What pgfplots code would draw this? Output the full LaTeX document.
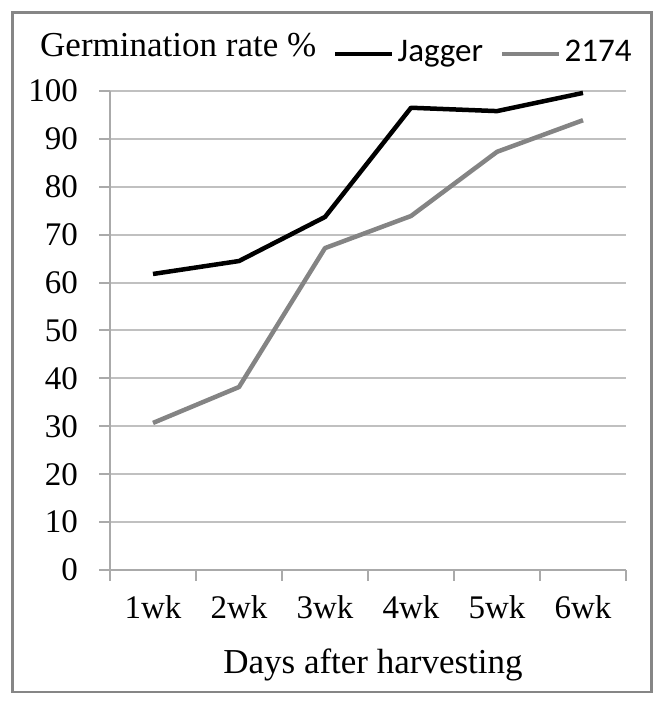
\documentclass[border=0pt]{standalone}
\usepackage{pgfplots}
\pgfplotsset{compat=1.18}
\usepackage{fontspec}
\setmainfont{Liberation Serif}
\newfontfamily\legfont{Carlito}
\definecolor{gridgray}{RGB}{192,192,192}
\definecolor{axisgray}{RGB}{170,170,170}
\definecolor{framegray}{RGB}{134,134,134}
\definecolor{sergray}{RGB}{132,132,132}

\begin{document}
\begin{tikzpicture}[x=1bp,y=1bp]
\useasboundingbox (0,0) rectangle (664,705);
\draw[framegray, line width=2.5bp] (12.5,13) rectangle (651.5,692.5);
\node[anchor=base west, inner sep=0pt, font=\fontsize{35bp}{40bp}\selectfont] at (40,648) {Germination rate \%};
\begin{axis}[
  at={(110bp,135bp)}, anchor=south west,
  scale only axis, width=516bp, height=479bp,
  xmin=0.5, xmax=6.5, ymin=0, ymax=100,
  axis lines=left,
  axis line style={-, draw=axisgray, line width=2bp},
  xtick={0.5,1.5,...,6.5},
  x tick label as interval,
  xticklabels={1wk,2wk,3wk,4wk,5wk,6wk},
  ytick={0,10,...,100},
  tick align=outside, major tick length=11bp,
  tick style={draw=axisgray, line width=2bp},
  ymajorgrids, grid style={draw=gridgray, line width=2bp},
  /pgf/number format/assume math mode=true,
  tick label style={font=\fontsize{33bp}{38bp}\selectfont},
  yticklabel style={anchor=east, inner sep=0pt, xshift=-21bp},
  xticklabel style={anchor=base, inner sep=0pt, yshift=-38bp},
  xlabel={Days after harvesting},
  every axis x label/.style={at={(axis description cs:0.5097,0)}, anchor=base, yshift=-103bp, font=\fontsize{35bp}{40bp}\selectfont},
  legend columns=2,
  legend image code/.code={\draw[#1] (0bp,-3bp) -- (57bp,-3bp);},
  legend style={at={(axis description cs:0.4322,1.083)}, anchor=west, draw=none, fill=none, inner sep=0pt,
    nodes={inner sep=0pt, font=\legfont\fontsize{33bp}{38bp}\selectfont},
    /tikz/every odd column/.append style={column sep=3bp},
    /tikz/every even column/.append style={column sep=17bp}},
  legend cell align=left,
]
\addplot[black, line width=4.5bp, line join=round, no markers] coordinates {(1,61.8) (2,64.5) (3,73.7) (4,96.5) (5,95.8) (6,99.6)};
\addlegendentry{Jagger}
\addplot[sergray, line width=4.5bp, line join=round, no markers] coordinates {(1,30.7) (2,38.2) (3,67.2) (4,73.9) (5,87.3) (6,93.9)};
\addlegendentry{2174}
\end{axis}
\end{tikzpicture}
\end{document}
